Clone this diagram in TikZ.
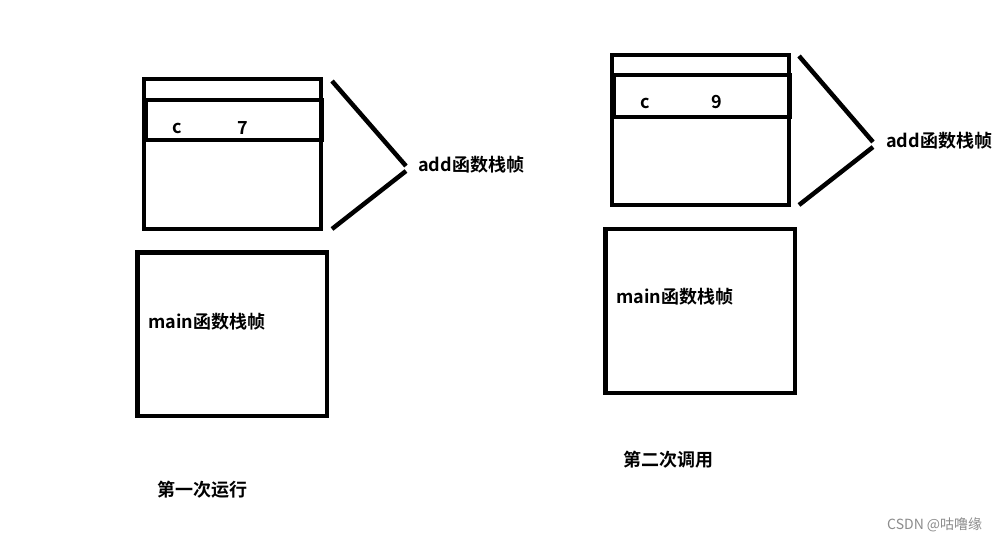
\documentclass[tikz,border=0pt]{standalone}
\usepackage{fontspec}
\setmainfont{Noto Sans CJK SC}
\newfontfamily\cjkbold{Noto Sans CJK SC Bold}
\begin{document}
\begin{tikzpicture}[x=1pt,y=-1pt,
  frame/.style={draw=black,line width=4.5pt},
  vline/.style={draw=black,line width=4.5pt,line cap=butt},
  lbl/.style={anchor=west,inner sep=0pt,font=\cjkbold\fontsize{18}{18}\selectfont},
  cell/.style={anchor=center,inner sep=0pt,font=\cjkbold\fontsize{18}{18}\selectfont},
  wm/.style={anchor=west,inner sep=0pt,text=black!45,font=\fontsize{14}{14}\selectfont}]
\useasboundingbox[fill=white] (0,0) rectangle (1001,543);
% ---------- left: first call ----------
\draw[frame] (144,79) rectangle (321,229);
\draw[frame] (146,100) rectangle (322,140);
\node[cell] (c1) at (177,128) {c};
\node[cell] (v1) at (243,128) {7};
\node[lbl] (add1) at (418,165) {add函数栈帧};
\coordinate (a1t) at (332,81);
\coordinate (a1b) at (332,229);
\coordinate (a1m) at (406,166);
\coordinate (a1n) at (406,171);
\draw[vline] (a1t) -- (a1m);
\draw[vline] (a1n) -- (a1b);
\draw[frame] (137.5,252.5) rectangle (327,416);
\node[lbl] (main1) at (148,322) {main函数栈帧};
\node[lbl] (t1) at (157,490) {第一次运行};
% ---------- right: second call ----------
\draw[frame] (612,55) rectangle (789,205);
\draw[frame] (614,75) rectangle (790,117);
\node[cell] (c2) at (645,103) {c};
\node[cell] (v2) at (717,102) {9};
\node[lbl] (add2) at (886,141) {add函数栈帧};
\coordinate (a2t) at (799,56);
\coordinate (a2b) at (799,205);
\coordinate (a2m) at (873,142);
\coordinate (a2n) at (873,147);
\draw[vline] (a2t) -- (a2m);
\draw[vline] (a2n) -- (a2b);
\draw[frame] (605.5,229) rectangle (795,393);
\node[lbl] (main2) at (616,297) {main函数栈帧};
\node[lbl] (t2) at (623,460) {第二次调用};
% ---------- watermark ----------
\node[wm] (wm) at (887,525) {CSDN @咕噜缘};
\end{tikzpicture}
\end{document}
